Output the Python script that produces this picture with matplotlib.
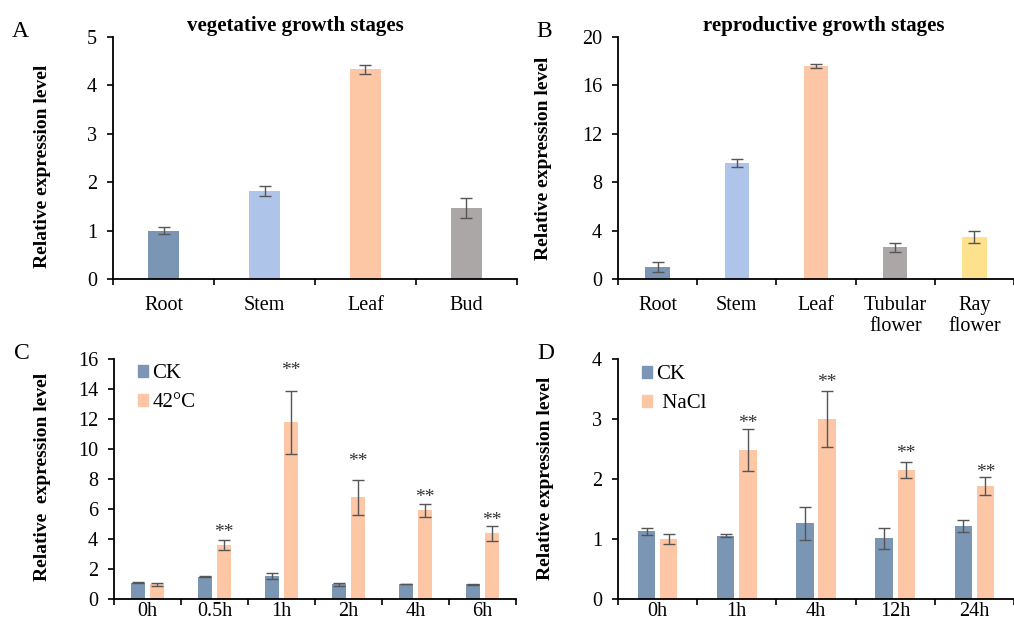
import matplotlib
matplotlib.use('Agg')
import matplotlib.pyplot as plt
import numpy as np
from matplotlib.patches import Patch
import matplotlib.transforms as mtransforms

plt.rcParams['font.family'] = ['Liberation Serif', 'DejaVu Serif']

# ---------------- data ----------------
veg_tissues = ['Root', 'Stem', 'Leaf', 'Bud']
veg_mean = [1.00, 1.82, 4.33, 1.47]
veg_err = [0.07, 0.11, 0.10, 0.20]

rep_tissues = ['Root', 'Stem', 'Leaf', 'Tubular\nflower', 'Ray\nflower']
rep_mean = [1.02, 9.60, 17.58, 2.64, 3.49]
rep_err = [0.41, 0.33, 0.17, 0.37, 0.50]

heat_times = ['0h', '0.5h', '1h', '2h', '4h', '6h']
heat_ck = [1.10, 1.50, 1.52, 1.00, 1.00, 0.97]
heat_ck_err = [0.03, 0.02, 0.20, 0.10, 0.02, 0.02]
heat_trt = [0.97, 3.60, 11.78, 6.78, 5.92, 4.40]
heat_trt_err = [0.12, 0.32, 2.10, 1.16, 0.44, 0.50]
heat_sig = ['', '**', '**', '**', '**', '**']
heat_sig_y = [0, 4.8, 15.58, 9.5, 7.1, 5.57]

salt_times = ['0h', '1h', '4h', '12h', '24h']
salt_ck = [1.13, 1.056, 1.26, 1.01, 1.22]
salt_ck_err = [0.055, 0.03, 0.27, 0.18, 0.10]
salt_trt = [1.00, 2.49, 3.00, 2.15, 1.89]
salt_trt_err = [0.09, 0.35, 0.47, 0.13, 0.15]
salt_sig = ['', '**', '**', '**', '**']
salt_sig_y = [0, 3.01, 3.69, 2.51, 2.19]

# ---------------- style ----------------
C_CK = '#7a96b4'
C_STEM = '#aec4e8'
C_LEAF = '#fdc7a6'
C_BUD = '#aba7a7'
C_RAY = '#fde18c'
C_ERR = '#555555'

W, H = 1014, 628
fig = plt.figure(figsize=(W / 100, H / 100), dpi=100)


def px(x0, y0, x1, y1):
    return [x0 / W, 1 - y1 / H, (x1 - x0) / W, (y1 - y0) / H]


def style_axes(ax, n, xlabels, ymax, ystep, xpad, xright=None):
    for s in ['top', 'right']:
        ax.spines[s].set_visible(False)
    for s in ['left', 'bottom']:
        ax.spines[s].set_linewidth(1.3)
        ax.spines[s].set_color('black')
    ax.set_xlim(-0.5, n - 0.5 if xright is None else xright)
    ax.set_ylim(0, ymax)
    ax.set_yticks(np.arange(0, ymax + ystep / 2, ystep))
    ax.set_xticks(np.arange(n))
    ax.set_xticklabels(xlabels, fontsize=14.5, linespacing=1.15)
    ax.set_xticks(np.arange(-0.5, n + 0.5, 1), minor=True)
    ax.tick_params(axis='x', which='major', length=0, pad=xpad)
    ax.tick_params(axis='x', which='minor', length=4.5, width=1.2, direction='out')
    ax.tick_params(axis='y', which='major', length=4.5, width=1.2, direction='out',
                   labelsize=14.5, pad=7)


def stars(ax, xs, ys, labels):
    tr = mtransforms.offset_copy(ax.transData, fig=fig, x=0, y=-7, units='points')
    for x, y, s in zip(xs, ys, labels):
        if s:
            ax.text(x, y, s, transform=tr, ha='center', va='baseline',
                    fontsize=14, color='#333333')


eb_kw = dict(fmt='none', ecolor=C_ERR, elinewidth=1, capsize=4.5, capthick=1)

# ---------------- Panel A ----------------
axA = fig.add_axes(px(113, 37, 517, 279))
xA = np.arange(len(veg_tissues))
axA.bar(xA, veg_mean, width=0.31, color=[C_CK, C_STEM, C_LEAF, C_BUD], zorder=2)
axA.errorbar(xA, veg_mean, yerr=veg_err, zorder=3, **eb_kw)
style_axes(axA, len(veg_tissues), veg_tissues, 5, 1, 12)

# ---------------- Panel B ----------------
axB = fig.add_axes(px(618, 37, 1014, 279))
xB = np.arange(len(rep_tissues))
axB.bar(xB, rep_mean, width=0.31, color=[C_CK, C_STEM, C_LEAF, C_BUD, C_RAY], zorder=2)
axB.errorbar(xB, rep_mean, yerr=rep_err, zorder=3, **eb_kw)
style_axes(axB, len(rep_tissues), rep_tissues, 20, 4, 12, xright=-0.5 + 396 / 80)

# ---------------- Panel C ----------------
axC = fig.add_axes(px(114, 359, 516, 599))
xC = np.arange(len(heat_times))
bw, off = 0.22, 0.14
axC.bar(xC - off, heat_ck, width=bw, color=C_CK, zorder=2)
axC.bar(xC + off, heat_trt, width=bw, color=C_LEAF, zorder=2)
axC.errorbar(xC - off, heat_ck, yerr=heat_ck_err, zorder=3, **eb_kw)
axC.errorbar(xC + off, heat_trt, yerr=heat_trt_err, zorder=3, **eb_kw)
stars(axC, xC + off, heat_sig_y, heat_sig)
style_axes(axC, len(heat_times), heat_times, 16, 2, 2.5)
axC.legend(handles=[Patch(color=C_CK), Patch(color=C_LEAF)], labels=['CK', '42°C'],
           loc='upper left', bbox_to_anchor=(138 / W, 1 - 364 / H),
           bbox_transform=fig.transFigure, frameon=False, borderpad=0,
           borderaxespad=0, handlelength=0.5, handleheight=0.5,
           handletextpad=0.2, labelspacing=0.5, fontsize=15)

# ---------------- Panel D ----------------
axD = fig.add_axes(px(618, 359, 1014, 599))
xD = np.arange(len(salt_times))
axD.bar(xD - off, salt_ck, width=bw, color=C_CK, zorder=2)
axD.bar(xD + off, salt_trt, width=bw, color=C_LEAF, zorder=2)
axD.errorbar(xD - off, salt_ck, yerr=salt_ck_err, zorder=3, **eb_kw)
axD.errorbar(xD + off, salt_trt, yerr=salt_trt_err, zorder=3, **eb_kw)
stars(axD, xD + off, salt_sig_y, salt_sig)
style_axes(axD, len(salt_times), salt_times, 4, 1, 2.5, xright=-0.5 + 396 / 81)
axD.legend(handles=[Patch(color=C_CK), Patch(color=C_LEAF)], labels=['CK', ' NaCl'],
           loc='upper left', bbox_to_anchor=(642 / W, 1 - 365 / H),
           bbox_transform=fig.transFigure, frameon=False, borderpad=0,
           borderaxespad=0, handlelength=0.5, handleheight=0.5,
           handletextpad=0.2, labelspacing=0.5, fontsize=15)

# ---------------- Texts ----------------
fig.text(295 / W, 1 - 30.7 / H, 'vegetative growth stages', fontsize=15,
         fontweight='bold', ha='center', va='baseline')
fig.text(824 / W, 1 - 30.7 / H, 'reproductive growth stages', fontsize=15,
         fontweight='bold', ha='center', va='baseline')

for (x, y, s) in [(12, 37, 'A'), (536, 37, 'B'), (14, 359, 'C'), (537, 359, 'D')]:
    fig.text(x / W, 1 - y / H, s, fontsize=17, ha='left', va='baseline')

for (x, y, s) in [(42.5, 166, 'Relative expression level'),
                  (544, 158, 'Relative expression level'),
                  (42.5, 477, 'Relative  expression level'),
                  (545, 478, 'Relative expression level')]:
    fig.text(x / W, 1 - y / H, s, fontsize=14, fontweight='bold', rotation=90,
             ha='center', va='center')

fig.savefig('out.png', dpi=100)
